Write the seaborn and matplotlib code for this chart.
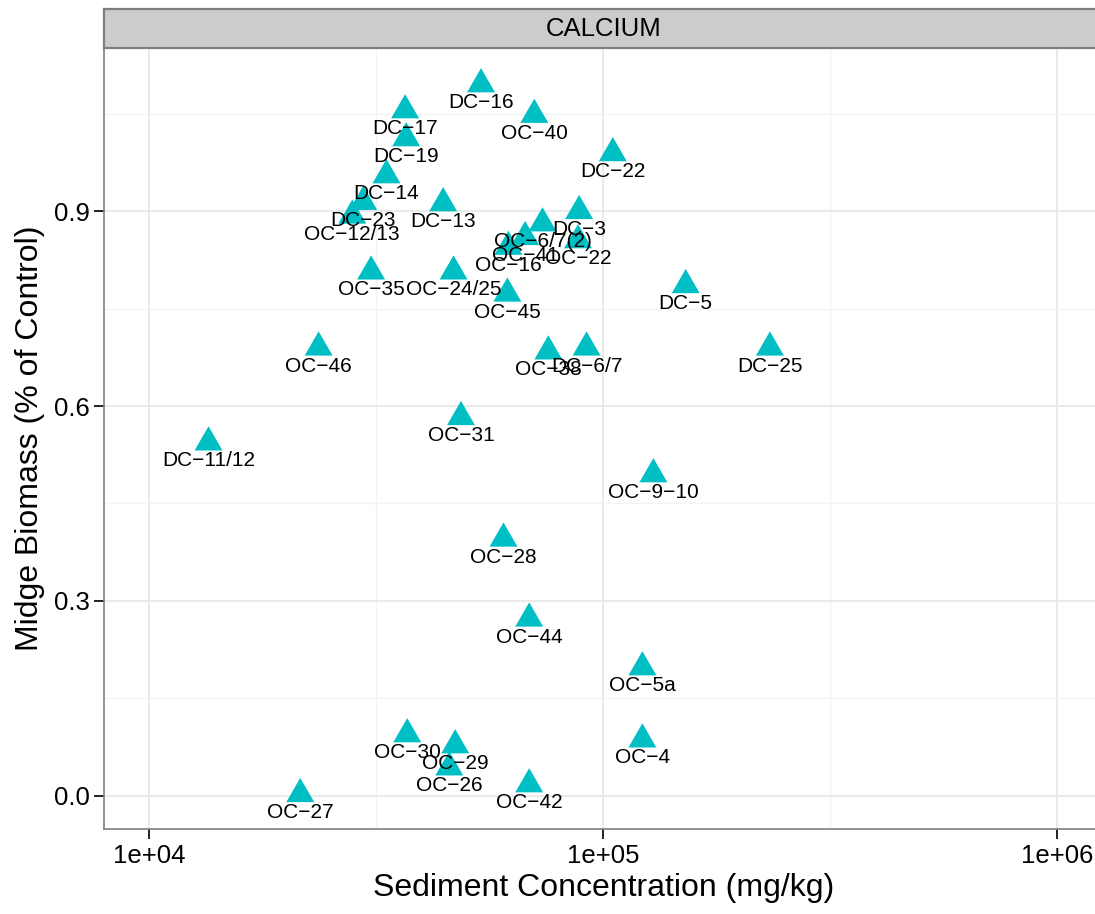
import numpy as np
import pandas as pd
import seaborn as sns
import matplotlib
matplotlib.use("Agg")
import matplotlib.pyplot as plt
from matplotlib.ticker import FixedLocator, NullFormatter

# ---- data ----
labels = ["DC-16", "DC-17", "DC-19", "DC-22", "DC-14", "DC-23", "DC-13", "DC-3",
          "DC-5", "DC-6/7", "DC-25", "DC-11/12",
          "OC-40", "OC-12/13", "OC-6/7(2)", "OC-41", "OC-16", "OC-22", "OC-35",
          "OC-24/25", "OC-45", "OC-46", "OC-38", "OC-31", "OC-9-10", "OC-28",
          "OC-44", "OC-5a", "OC-30", "OC-29", "OC-26", "OC-42", "OC-4", "OC-27"]
concentration = [53800, 36600, 36800, 105000, 33300, 29600, 44400, 88500,
                 152000, 91900, 233000, 13500,
                 70500, 28000, 73500, 67300, 61800, 88000, 30800,
                 46800, 61500, 23600, 75700, 48600, 129000, 60300,
                 68700, 122000, 37000, 47200, 45800, 68700, 122000, 21500]
biomass = [1.095, 1.055, 1.012, 0.989, 0.955, 0.914, 0.912, 0.900,
           0.786, 0.690, 0.690, 0.544,
           1.048, 0.893, 0.881, 0.860, 0.845, 0.855, 0.807,
           0.807, 0.773, 0.690, 0.684, 0.583, 0.495, 0.396,
           0.273, 0.198, 0.095, 0.078, 0.044, 0.018, 0.087, 0.003]
panel_title = "CALCIUM"
x_ticks = [1e4, 1e5, 1e6]
x_tick_labels = ["1e+04", "1e+05", "1e+06"]
y_ticks = [0.0, 0.3, 0.6, 0.9]
y_tick_labels = ["0.0", "0.3", "0.6", "0.9"]

df = pd.DataFrame({"label": labels, "conc": concentration, "biomass": biomass})

sns.set_theme(style="white")
plt.rcParams["font.family"] = ["Liberation Sans", "DejaVu Sans"]

W, H = 1095, 914
fig = plt.figure(figsize=(W / 100, H / 100), dpi=100)

# panel geometry in pixels
pl, pr, pt, pb = 104, 1102.4, 48, 829
ax = fig.add_axes([pl / W, (H - pb) / H, (pr - pl) / W, (pb - pt) / H])
ax.set_facecolor("white")

ax.set_xscale("log")
ax.set_xlim(10 ** 3.9, 10 ** 6.1)
ax.set_ylim(-0.0508, 1.1508)

# grid
ax.xaxis.set_major_locator(FixedLocator(x_ticks))
ax.xaxis.set_minor_locator(FixedLocator([10 ** 4.5, 10 ** 5.5]))
ax.xaxis.set_minor_formatter(NullFormatter())
ax.yaxis.set_major_locator(FixedLocator(y_ticks))
ax.yaxis.set_minor_locator(FixedLocator([0.15, 0.45, 0.75, 1.05]))
ax.grid(True, which="major", color="#E8E8E8", linewidth=1.3)
ax.grid(True, which="minor", color="#F3F3F3", linewidth=1.0)
ax.set_axisbelow(True)

ax.set_xticklabels(x_tick_labels)
ax.set_yticklabels(y_tick_labels)
ax.tick_params(which="major", length=7, width=1.4, color="#222222",
               labelsize=18.5, labelcolor="black", pad=3.5,
               bottom=True, left=True)
ax.tick_params(which="minor", length=0)

for s in ax.spines.values():
    s.set_color("#7F7F7F")
    s.set_linewidth(1.2)

# equilateral triangle marker (centroid centred)
tri = [(0.0, 1.0), (-0.866, -0.5), (0.866, -0.5), (0.0, 1.0)]

for _, row in df.iterrows():
    sub = df[df["label"] == row["label"]]
    sns.scatterplot(data=sub, x="conc", y="biomass", ax=ax, marker=tri,
                    s=540, color="#00BFC4", edgecolor="none", linewidth=0,
                    legend=False, zorder=3)
    ax.annotate(row["label"].replace("-", "\u2212"),
                (row["conc"], row["biomass"]), xytext=(0, -17.3),
                textcoords="offset points", ha="center", va="baseline",
                fontsize=15, color="black", zorder=4)

ax.set_xlabel("Sediment Concentration (mg/kg)", fontsize=23, color="black")
ax.set_ylabel("Midge Biomass (% of Control)", fontsize=23, color="black")
ax.xaxis.set_label_coords(0.5, (pb - 888) / (pb - pt))
ax.xaxis.label.set_va("center")
ax.yaxis.set_label_coords((30 - pl) / (pr - pl), 0.5)
ax.yaxis.label.set_va("center")

# facet strip
st, sb = 9, 48
sax = fig.add_axes([pl / W, (H - sb) / H, (pr - pl) / W, (sb - st) / H])
sax.set_facecolor("#CCCCCC")
sax.set_xticks([])
sax.set_yticks([])
for s in sax.spines.values():
    s.set_color("#7F7F7F")
    s.set_linewidth(1.6)
sax.text(0.5, 0.5, panel_title, ha="center", va="center", fontsize=18.5,
         color="black", transform=sax.transAxes)

fig.savefig("out.png", dpi=100)
